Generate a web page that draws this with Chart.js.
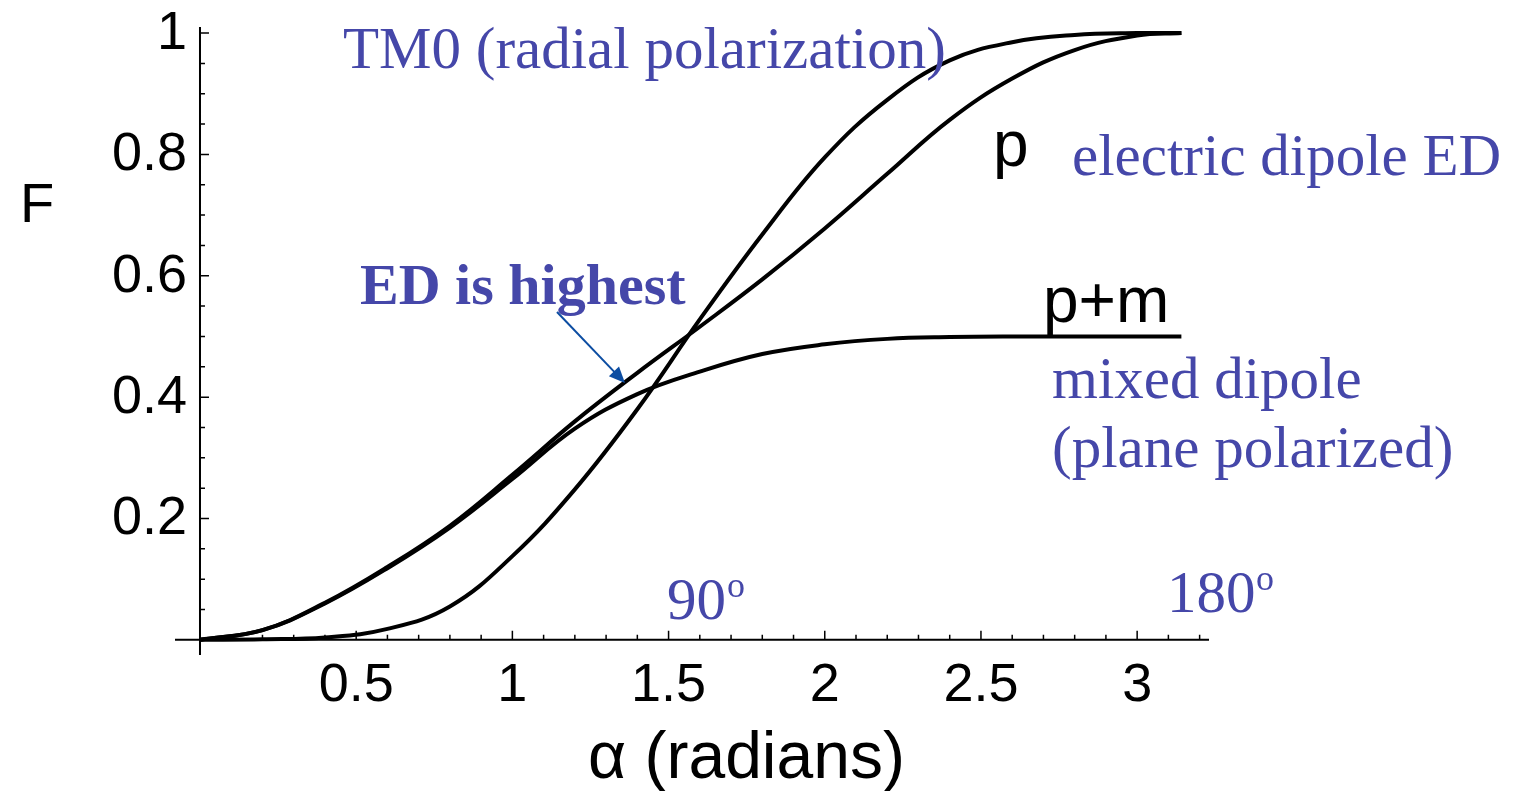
<!DOCTYPE html>
<html>
<head>
<meta charset="utf-8">
<script src="https://cdn.jsdelivr.net/npm/chart.js@4.4.1/dist/chart.umd.min.js"></script>
<style>
  html, body { margin: 0; padding: 0; background: #fff; }
  #wrap { width: 1515px; height: 791px; }
</style>
</head>
<body>
<div id="wrap"><canvas id="myChart" width="1515" height="791"></canvas></div>
<script>
// angle in radians
const alpha = [0, 0.2, 0.4, 0.6, 0.8, 1.0, 1.2, 1.4, 1.6, 1.8, 2.0, 2.2, 2.4, 2.6, 2.8, 3.0, 3.1416]
// TM0 (radial polarization)
const tm0 = [0, 0.001, 0.004, 0.018, 0.055, 0.138, 0.248, 0.38, 0.528, 0.668, 0.795, 0.89, 0.955, 0.985, 0.997, 1.0, 1.0]
// p : electric dipole
const pDipole = [0, 0.016, 0.061, 0.12, 0.188, 0.272, 0.36, 0.44, 0.516, 0.594, 0.678, 0.768, 0.857, 0.925, 0.972, 0.996, 1.0]
// p+m : mixed dipole
const pmDipole = [0, 0.016, 0.06, 0.118, 0.185, 0.265, 0.348, 0.405, 0.442, 0.471, 0.487, 0.496, 0.499, 0.5, 0.5, 0.5, 0.5]

const xMajor = [0.5, 1, 1.5, 2, 2.5, 3]
const xLabels = ['0.5', '1', '1.5', '2', '2.5', '3']
const yMajor = [0.2, 0.4, 0.6, 0.8, 1]
const yLabels = ['0.2', '0.4', '0.6', '0.8', '1']

const toPoints = (ys) => alpha.map((a, i) => ({ x: a, y: ys[i] }))

const blue = '#4547a9'

const axesPlugin = {
    id: 'axesPlugin',
    afterDraw(chart) {
        const ctx = chart.ctx
        const xs = chart.scales.x
        const ys = chart.scales.y
        const x0 = xs.getPixelForValue(0)
        const y0 = ys.getPixelForValue(0)
        ctx.save()
        ctx.strokeStyle = '#000'
        ctx.fillStyle = '#000'
        // axis lines
        ctx.lineWidth = 2
        ctx.beginPath()
        ctx.moveTo(xs.left, y0)
        ctx.lineTo(xs.right, y0)
        ctx.moveTo(x0, ys.top)
        ctx.lineTo(x0, ys.bottom)
        ctx.stroke()
        // ticks
        ctx.lineWidth = 1.5
        ctx.beginPath()
        for (let i = 1; i <= 32; i++) {
            const px = xs.getPixelForValue(i / 10)
            const len = (i % 5 === 0) ? 9 : 5
            ctx.moveTo(px, y0)
            ctx.lineTo(px, y0 - len)
        }
        for (let i = 1; i <= 20; i++) {
            const py = ys.getPixelForValue(i / 20)
            const len = (i % 4 === 0) ? 9 : 5
            ctx.moveTo(x0, py)
            ctx.lineTo(x0 + len, py)
        }
        ctx.stroke()
        // tick labels
        ctx.font = '54px "Liberation Sans", Arial, sans-serif'
        ctx.textAlign = 'center'
        ctx.textBaseline = 'middle'
        xMajor.forEach((v, i) => {
            ctx.fillText(xLabels[i], xs.getPixelForValue(v), 686)
        })
        ctx.textAlign = 'right'
        yMajor.forEach((v, i) => {
            ctx.fillText(yLabels[i], 187, ys.getPixelForValue(v) + 1)
        })
        // axis titles
        ctx.textAlign = 'left'
        ctx.textBaseline = 'alphabetic'
        ctx.font = '56px "Liberation Sans", Arial, sans-serif'
        ctx.fillText('F', 20, 222)
        ctx.font = '66px "Liberation Sans", Arial, sans-serif'
        ctx.fillText('\u03b1 (radians)', 588, 778)
        // curve labels
        ctx.font = '64px "Liberation Sans", Arial, sans-serif'
        ctx.fillText('p', 993, 166)
        ctx.fillText('p+m', 1043, 322)

        // blue annotations
        ctx.fillStyle = blue
        ctx.font = '59px "Liberation Serif", "Times New Roman", serif'
        ctx.fillText('TM0 (radial polarization)', 343, 68)
        ctx.fillText('electric dipole ED', 1072, 175)
        ctx.fillText('mixed dipole', 1052, 398)
        ctx.fillText('(plane polarized)', 1052, 467)
        ctx.fillText('90', 667, 619)
        ctx.fillText('180', 1167, 612)
        ctx.font = '36px "Liberation Serif", "Times New Roman", serif'
        ctx.fillText('o', 727, 597)
        ctx.fillText('o', 1256, 590)
        ctx.font = 'bold 58px "Liberation Serif", "Times New Roman", serif'
        ctx.fillText('ED is highest', 360, 304)

        // arrow
        const ax = 557, ay = 312, bx = 625, by = 383
        const ang = Math.atan2(by - ay, bx - ax)
        ctx.strokeStyle = '#0c4da2'
        ctx.fillStyle = '#0c4da2'
        ctx.lineWidth = 2
        ctx.beginPath()
        ctx.moveTo(ax, ay)
        ctx.lineTo(bx - 12 * Math.cos(ang), by - 12 * Math.sin(ang))
        ctx.stroke()
        ctx.beginPath()
        ctx.moveTo(bx, by)
        ctx.lineTo(bx - 16 * Math.cos(ang) + 7 * Math.sin(ang), by - 16 * Math.sin(ang) - 7 * Math.cos(ang))
        ctx.lineTo(bx - 16 * Math.cos(ang) - 7 * Math.sin(ang), by - 16 * Math.sin(ang) + 7 * Math.cos(ang))
        ctx.closePath()
        ctx.fill()
        ctx.restore()
    }
}

const lineStyle = {
    borderColor: '#000',
    borderWidth: 4,
    pointRadius: 0,
    fill: false,
    tension: 0.4
}

new Chart('myChart', {
    type: 'line',
    data: {
        datasets: [
            Object.assign({ label: 'TM0', data: toPoints(tm0) }, lineStyle),
            Object.assign({ label: 'p', data: toPoints(pDipole) }, lineStyle),
            Object.assign({ label: 'p+m', data: toPoints(pmDipole) }, lineStyle)
        ]
    },
    options: {
        responsive: false,
        animation: false,
        devicePixelRatio: 1,
        layout: {
            padding: { left: 175, right: 306, top: 27, bottom: 136 }
        },
        plugins: {
            legend: { display: false },
            tooltip: { enabled: false }
        },
        scales: {
            x: { type: 'linear', min: -0.08, max: 3.23, display: false },
            y: { type: 'linear', min: -0.025, max: 1.01, display: false }
        }
    },
    plugins: [axesPlugin]
})
</script>
</body>
</html>
